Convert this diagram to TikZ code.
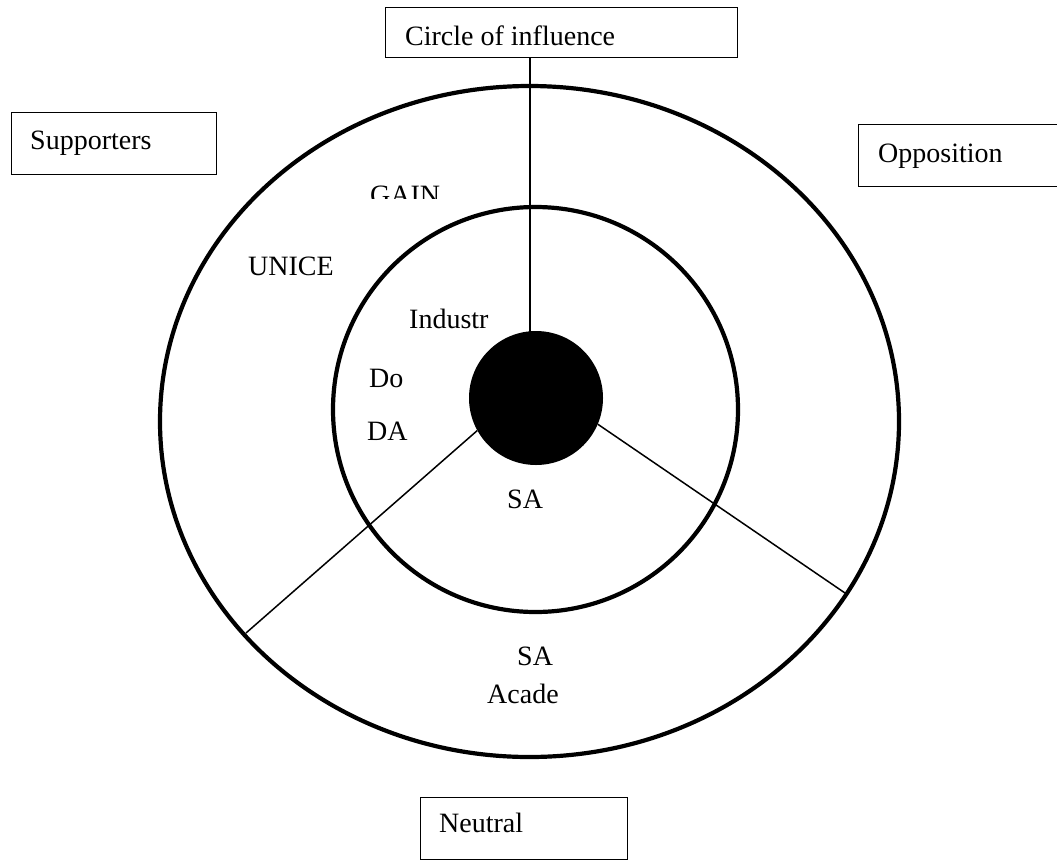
\documentclass[tikz,border=0pt]{standalone}
\usepackage{fontspec}
\setmainfont{Liberation Serif}
\usetikzlibrary{shapes.geometric}
\begin{document}
\begin{tikzpicture}[x=1pt,y=-1pt,
  lbl/.style={anchor=base west, inner sep=0pt, font=\fontsize{28}{34}\selectfont},
  labelbox/.style={draw, line width=1.2pt, anchor=north west, inner sep=0pt},
  ring/.style={draw, line width=4.2pt, inner sep=0pt, outer sep=0pt},
  spoke/.style={line width=1.5pt},
  stem/.style={line width=2pt}]
\clip (0,0) rectangle (1057,860);
\fill[white] (0,0) rectangle (1057,860);
% boxes
\node[labelbox, minimum width=352pt, minimum height=50pt] (cb) at (385,7) {};
\node[labelbox, minimum width=205pt, minimum height=62pt] (sup) at (11,112) {};
\node[labelbox, minimum width=210pt, minimum height=62pt] (opp) at (858,124) {};
\node[labelbox, minimum width=207pt, minimum height=62pt] (neu) at (420,797) {};
\node[lbl] (tcb) at (405,45) {Circle of influence};
\node[lbl] (tsup) at (30,149) {Supporters};
\node[lbl] (topp) at (878,162) {Opposition};
\node[lbl] (tneu) at (439,832) {Neutral};
% rings
\node[ring, ellipse, minimum width=739pt, minimum height=671pt] (outer) at (529.5,421.5) {};
\node[ring, circle, minimum size=405pt] (inner) at (535.5,409.5) {};
\node[circle, fill=black, minimum size=134pt, inner sep=0pt] (disc) at (536,398) {};
% connectors
\coordinate (vt) at (530,332);
\coordinate (nl) at (246,633);
\coordinate (nr) at (845,593);
\draw[stem] (vt |- cb.south) -- (vt);
\draw[spoke] (disc.209) -- (nl);
\draw[spoke] (disc.-23.5) -- (nr);
% labels inside
\begin{scope}
\clip (360,170) rectangle (470,198);
\node[lbl] (gain) at (370,204) {GAIN};
\end{scope}
\node[lbl] (unice) at (248,275) {UNICE};
\node[lbl] (ind) at (409,328) {Industr};
\node[lbl] (do) at (369,387) {Do};
\node[lbl] (da) at (367,440) {DA};
\node[lbl] (sa1) at (507,508) {SA};
\node[lbl] (sa2) at (517,665) {SA};
\node[lbl] (acade) at (487,703) {Acade};
\end{tikzpicture}
\end{document}
